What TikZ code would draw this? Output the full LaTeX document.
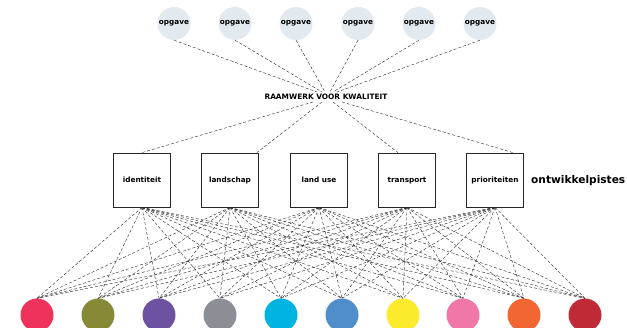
\documentclass[tikz,border=0pt]{standalone}
\usepackage{fontspec}
\setmainfont{DejaVu Sans}
\definecolor{opgaveblauw}{HTML}{E2EAF0}
\definecolor{kleurA}{HTML}{EF325B}
\definecolor{kleurB}{HTML}{868936}
\definecolor{kleurC}{HTML}{6C52A1}
\definecolor{kleurD}{HTML}{8B8F95}
\definecolor{kleurE}{HTML}{00B4E1}
\definecolor{kleurF}{HTML}{4F8ECB}
\definecolor{kleurG}{HTML}{FCEB2D}
\definecolor{kleurH}{HTML}{F177A8}
\definecolor{kleurI}{HTML}{F26633}
\definecolor{kleurJ}{HTML}{BF2A36}
\begin{document}
\begin{tikzpicture}[x=1pt,y=-1pt,
    opgavebol/.style={circle,fill=opgaveblauw,minimum size=33pt,inner sep=0pt,
      font=\bfseries\fontsize{7.3}{8}\selectfont},
    pistebox/.style={draw=black!85,line width=0.8pt,fill=white,minimum width=57pt,
      minimum height=54pt,inner sep=0pt,text height=0.75em,text depth=0.2em,
      font=\bfseries\fontsize{7.3}{8}\selectfont},
    kleurbol/.style={circle,minimum size=33pt,inner sep=0pt},
    lijn/.style={densely dashed,line width=0.4pt,black!85}]
  \useasboundingbox (0,0) rectangle (627,328);
  % opgaven bovenaan
  \foreach \i/\x in {1/174,2/235,3/296,4/358,5/419,6/480}
    \node[opgavebol] (opgave\i) at (\x,23.5) {opgave};
  \node[font=\bfseries\fontsize{7.4}{8}\selectfont,inner sep=2pt] (kader) at (326,97) {RAAMWERK VOOR KWALITEIT};
  \foreach \i/\d in {1/-9,2/-4,3/-1,4/4,5/7,6/11}
    \draw[lijn] (opgave\i.south) -- ([xshift=\d pt]kader.north);
  % ontwikkelpistes
  \foreach \naam/\x/\tekst in {identiteit/142/identiteit,landschap/230/landschap,
      landuse/319/land use,transport/407/transport,prioriteiten/495/prioriteiten}
    \node[pistebox] (\naam) at (\x,180) {\tekst};
  \node[anchor=west,font=\bfseries\fontsize{10.6}{12}\selectfont,inner sep=0pt] (pistes) at (531,181) {ontwikkelpistes};
  \draw[lijn] ([xshift=-13pt]kader.south) -- (identiteit.north);
  \draw[lijn] ([xshift=-4pt]kader.south) -- ([xshift=-2pt]landschap.north east);
  \draw[lijn] ([xshift=7pt]kader.south) -- ([xshift=-9pt]transport.north);
  \draw[lijn] ([xshift=16pt]kader.south) -- ([xshift=18pt]prioriteiten.north);
  % gekleurde bollen onderaan
  \foreach \i/\x/\kleur in {1/37/kleurA,2/98/kleurB,3/159/kleurC,4/220/kleurD,5/281/kleurE,
      6/342/kleurF,7/403/kleurG,8/463/kleurH,9/524/kleurI,10/585/kleurJ}
    \node[kleurbol,fill=\kleur] (bol\i) at (\x,315) {};
  \foreach \b in {identiteit,landschap,landuse,transport,prioriteiten}
    \foreach \c in {1,...,10}
      \draw[lijn] (\b.south) -- (bol\c.north);
\end{tikzpicture}
\end{document}
